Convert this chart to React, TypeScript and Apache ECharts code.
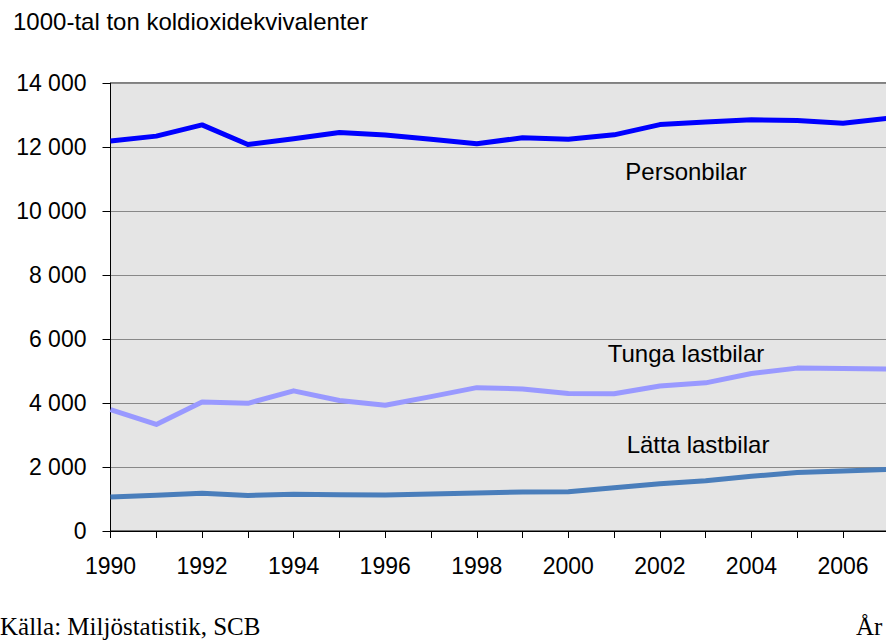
import React, { useEffect, useRef } from "react";
import * as echarts from "echarts";

const years = ["1990","1991","1992","1993","1994","1995","1996","1997","1998","1999","2000","2001","2002","2003","2004","2005","2006","2007"];
const personbilar = [12190, 12340, 12690, 12080, 12260, 12450, 12375, 12240, 12100, 12290, 12240, 12380, 12700, 12780, 12850, 12830, 12740, 12900];
const tungaLastbilar = [3790, 3330, 4030, 3990, 4380, 4080, 3930, 4200, 4480, 4440, 4300, 4290, 4530, 4630, 4920, 5090, 5080, 5060];
const lattaLastbilar = [1060, 1120, 1180, 1110, 1145, 1135, 1125, 1155, 1190, 1220, 1230, 1350, 1480, 1570, 1710, 1830, 1875, 1925];
const seriesNames = ["Personbilar", "Tunga lastbilar", "Lätta lastbilar"];

const fmt = (v: number) => {
  const s = String(Math.round(v));
  return s.length > 3 ? s.slice(0, s.length - 3) + " " + s.slice(-3) : s;
};

export default function App() {
  const ref = useRef<HTMLDivElement>(null);
  useEffect(() => {
    if (!ref.current) return;
    const chart = echarts.init(ref.current, null, { renderer: "svg" });
    const font = "Arial, 'Liberation Sans', sans-serif";
    const serif = "'Times New Roman', 'Liberation Serif', serif";
    chart.setOption({
      animation: false,
      backgroundColor: "#ffffff",
      grid: {
        left: 110.5,
        right: 11.2,
        top: 83,
        bottom: 111,
        show: true,
        backgroundColor: "#e5e5e5",
        borderColor: "#000000",
        borderWidth: 1,
      },
      xAxis: {
        type: "category",
        data: years,
        boundaryGap: false,
        axisLine: { lineStyle: { color: "#000", width: 1 } },
        axisTick: { show: true, interval: 0, length: 7, lineStyle: { color: "#000" } },
        axisLabel: { interval: 1, color: "#000", fontSize: 23, fontFamily: font, margin: 23 },
        splitLine: { show: false },
      },
      yAxis: {
        type: "value",
        min: 0,
        max: 14000,
        interval: 2000,
        axisLine: { show: true, lineStyle: { color: "#000", width: 1 } },
        axisTick: { show: true, length: 8, lineStyle: { color: "#000" } },
        axisLabel: { color: "#000", fontSize: 23, fontFamily: font, margin: 24, formatter: fmt },
        splitLine: { show: true, lineStyle: { color: "#888888", width: 1 } },
      },
      series: [
        { name: seriesNames[0], type: "line", data: personbilar, symbol: "none", lineStyle: { color: "#0000ff", width: 5, join: "round" } },
        { name: seriesNames[1], type: "line", data: tungaLastbilar, symbol: "none", lineStyle: { color: "#9999ff", width: 5, join: "round" } },
        { name: seriesNames[2], type: "line", data: lattaLastbilar, symbol: "none", lineStyle: { color: "#4a7ebb", width: 5, join: "round" } },
      ],
      graphic: [
        { type: "text", left: 13, top: 9, style: { text: "1000-tal ton koldioxidekvivalenter", fontSize: 24, fontFamily: font, fill: "#000" } },
        { type: "text", x: 686, y: 171, style: { text: seriesNames[0], fontSize: 24, fontFamily: font, fill: "#000", textAlign: "center", textVerticalAlign: "middle" } },
        { type: "text", x: 686, y: 353, style: { text: seriesNames[1], fontSize: 24, fontFamily: font, fill: "#000", textAlign: "center", textVerticalAlign: "middle" } },
        { type: "text", x: 698, y: 444, style: { text: seriesNames[2], fontSize: 24, fontFamily: font, fill: "#000", textAlign: "center", textVerticalAlign: "middle" } },
        { type: "text", x: 0, y: 639, style: { text: "Källa: Miljöstatistik, SCB", fontSize: 25, fontFamily: serif, fill: "#000", textVerticalAlign: "bottom" } },
        { type: "text", x: 856, y: 639, style: { text: "År", fontSize: 25, fontFamily: serif, fill: "#000", textVerticalAlign: "bottom" } },
      ],
    });
    return () => chart.dispose();
  }, []);
  return (
    <div style={{ position: "fixed", left: 0, top: 0, width: 886, height: 642, overflow: "hidden", background: "#fff" }}>
      <div ref={ref} style={{ width: 900, height: 642 }} />
    </div>
  );
}
